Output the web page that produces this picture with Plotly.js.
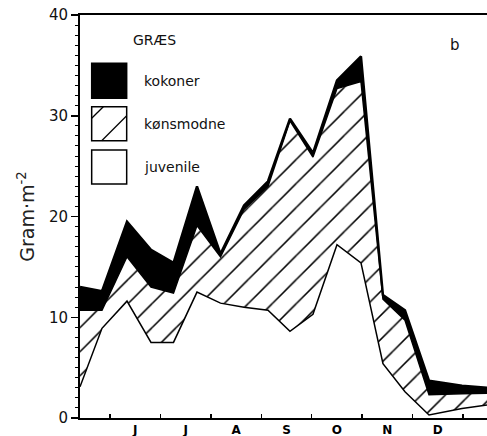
<!DOCTYPE html>
<html>
<head>
<meta charset="utf-8">
<script src="https://cdn.plot.ly/plotly-3.0.1.min.js"></script>
<style>
html,body{margin:0;padding:0;background:#fff;}
#chart{width:487px;height:436px;}
</style>
</head>
<body>
<div id="chart"></div>
<script>
// Sampling dates as decimal month (6.0 = 1 June)
const sampleMonth = [5.405, 5.841, 6.337, 6.813, 7.259, 7.725, 8.191, 8.657, 9.133, 9.569, 10.025, 10.501, 10.977, 11.413, 11.850, 12.326, 12.980, 13.476];
// Biomass, g per m2 (stacked)
const juvenile  = [3.1, 8.9, 11.6, 7.5, 7.5, 12.5, 11.4, 11.0, 10.7, 8.6, 10.3, 17.2, 15.4, 5.4, 2.6, 0.3, 0.95, 1.3];
const konsmodne = [7.6, 1.8, 4.4, 5.5, 4.9, 6.6, 4.6, 9.7, 12.3, 20.9, 15.6, 15.5, 18.0, 6.4, 7.1, 2.0, 1.45, 1.15];
const kokoner   = [2.3, 1.9, 3.5, 3.7, 3.0, 3.9, 0.3, 0.4, 0.5, 0.2, 0.4, 0.8, 2.5, 0.4, 1.0, 1.4, 0.8, 0.55];
const monthCenters = [6.5, 7.5, 8.5, 9.5, 10.5, 11.5, 12.5];
const monthLabels = ['J', 'J', 'A', 'S', 'O', 'N', 'D'];
const seriesNames = ['juvenile', 'kønsmodne', 'kokoner'];
const panelTitle = 'GRÆS';
const panelLetter = 'b';
const yTitle = 'Gram·m<sup>-2</sup>';

const traces = [
  {x: sampleMonth, y: juvenile, name: seriesNames[0], type: 'scatter', mode: 'lines',
   stackgroup: 'a', fillcolor: 'white', line: {color: 'black', width: 1.5, shape: 'linear'}},
  {x: sampleMonth, y: konsmodne, name: seriesNames[1], type: 'scatter', mode: 'lines',
   stackgroup: 'a', fillcolor: 'white',
   fillpattern: {shape: '/', size: 17, solidity: 0.09, fgcolor: 'black', bgcolor: 'white'},
   line: {color: 'black', width: 1.5}},
  {x: sampleMonth, y: kokoner, name: seriesNames[2], type: 'scatter', mode: 'lines',
   stackgroup: 'a', fillcolor: 'black', line: {color: 'black', width: 2.4}}
];

const font = 'DejaVu Sans, sans-serif';
const layout = {
  width: 487, height: 436,
  margin: {l: 80, r: 0, t: 15, b: 18},
  paper_bgcolor: 'white', plot_bgcolor: 'white',
  showlegend: false,
  xaxis: {
    range: [5.405, 13.476], showgrid: false, zeroline: false,
    showline: true, linecolor: 'black', linewidth: 2, mirror: true,
    tickmode: 'array', tickvals: monthCenters, ticktext: monthLabels,
    ticks: '',
    tickfont: {family: font, size: 12, color: '#000', weight: 'bold'},
    minor: {tickmode: 'linear', tick0: 6, dtick: 1, ticks: 'inside', ticklen: 4, tickwidth: 1.5, tickcolor: 'black', showgrid: false}
  },
  yaxis: {
    range: [0, 40], showgrid: false, zeroline: false,
    showline: true, linecolor: 'black', linewidth: 2,
    tickmode: 'linear', tick0: 0, dtick: 10,
    ticks: 'outside', ticklen: 7, tickwidth: 1.5, tickcolor: 'black',
    tickfont: {family: font, size: 15, color: '#111'},
    minor: {tickmode: 'linear', tick0: 0, dtick: 1, ticks: 'outside', ticklen: 3, tickwidth: 1, tickcolor: 'black', showgrid: false},
    title: {text: yTitle, font: {family: font, size: 19, color: '#222'}, standoff: 9}
  },
  shapes: [
    {type: 'rect', xref: 'paper', yref: 'paper', x0: 0.0287, x1: 0.1147, y0: 0.7933, y1: 0.8801,
     fillcolor: 'black', line: {color: 'black', width: 1.5}},
    {type: 'rect', xref: 'paper', yref: 'paper', x0: 0.0287, x1: 0.1147, y0: 0.6881, y1: 0.7725,
     fillcolor: 'white', line: {color: 'black', width: 1.5}},
    {type: 'line', xref: 'paper', yref: 'paper', x0: 0.0287, x1: 0.0573, y0: 0.7437, y1: 0.7725,
     line: {color: 'black', width: 1.3}},
    {type: 'line', xref: 'paper', yref: 'paper', x0: 0.0533, x1: 0.1147, y0: 0.6881, y1: 0.7501,
     line: {color: 'black', width: 1.3}},
    {type: 'rect', xref: 'paper', yref: 'paper', x0: 0.0287, x1: 0.1147, y0: 0.5806, y1: 0.665,
     fillcolor: 'white', line: {color: 'black', width: 1.5}}
  ],
  annotations: [
    {text: panelTitle, xref: 'paper', yref: 'paper', x: 0.125, y: 0.938, xanchor: 'left', yanchor: 'middle',
     showarrow: false, font: {family: font, size: 14, color: '#111'}},
    {text: seriesNames[2], xref: 'paper', yref: 'paper', x: 0.152, y: 0.836, xanchor: 'left', yanchor: 'middle',
     showarrow: false, font: {family: font, size: 14, color: '#111'}},
    {text: seriesNames[1], xref: 'paper', yref: 'paper', x: 0.152, y: 0.7295, xanchor: 'left', yanchor: 'middle',
     showarrow: false, font: {family: font, size: 14, color: '#111'}},
    {text: seriesNames[0], xref: 'paper', yref: 'paper', x: 0.152, y: 0.6228, xanchor: 'left', yanchor: 'middle',
     showarrow: false, font: {family: font, size: 14, color: '#111'}},
    {text: panelLetter, xref: 'paper', yref: 'paper', x: 0.921, y: 0.9256, xanchor: 'center', yanchor: 'middle',
     showarrow: false, font: {family: font, size: 15, color: '#111'}}
  ]
};

Plotly.newPlot('chart', traces, layout, {staticPlot: true, displayModeBar: false});
</script>
</body>
</html>
